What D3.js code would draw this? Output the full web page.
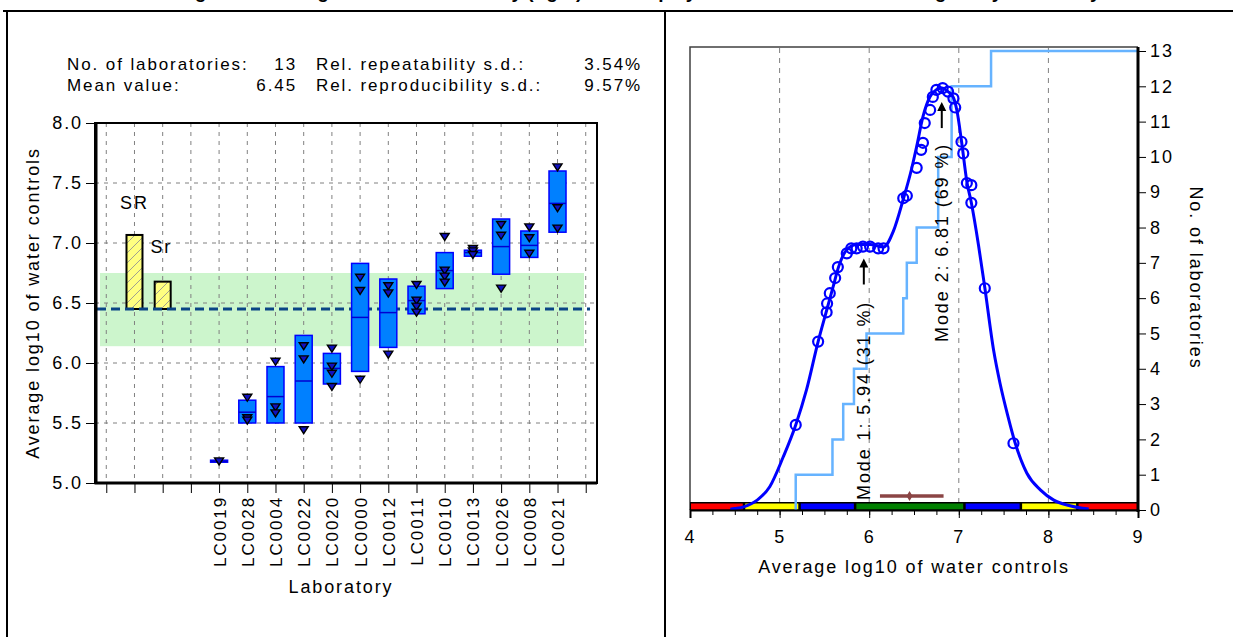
<!DOCTYPE html>
<meta charset="utf-8">
<head>
<title>Laboratory averages and kernel density</title>
<script src="https://d3js.org/d3.v7.min.js"></script>
<style>
  body { margin: 0; background: #fff; }
  text { font-family: "Liberation Sans", Arial, sans-serif; fill: #000; }
</style>
</head>
<body>
<svg width="1233" height="637"></svg>
<script>
// ---- left panel data ----
var labNames = ["LC0019","LC0028","LC0004","LC0022","LC0020","LC0000","LC0012","LC0011","LC0010","LC0013","LC0026","LC0008","LC0021"];
var boxLow  = [5.175, 5.50, 5.50, 5.50, 5.825, 5.93, 6.13, 6.41, 6.62, 6.89, 6.74, 6.88, 7.09];
var boxHigh = [5.19, 5.69, 5.97, 6.23, 6.08, 6.83, 6.70, 6.64, 6.92, 6.94, 7.20, 7.10, 7.60];
var boxMid  = [5.18, 5.59, 5.72, 5.85, 5.955, 6.38, 6.42, 6.52, 6.77, 6.92, 6.97, 6.98, 7.33];
var replicates = [
  [5.18], [5.71, 5.54, 5.52], [6.01, 5.63, 5.58], [6.14, 6.03, 5.44],
  [6.12, 5.97, 5.91, 5.80], [6.71, 6.60, 5.86], [6.64, 6.58, 6.07],
  [6.65, 6.52, 6.47, 6.42], [7.05, 6.77, 6.72, 6.67], [6.95, 6.93, 6.90],
  [7.15, 7.06, 6.62], [7.13, 7.04, 6.91], [7.63, 7.29, 7.12]
];
var meanValue = 6.45;
var sdR = 0.617, sdr = 0.228;      // reproducibility / repeatability s.d.
var bandLow = 6.14, bandHigh = 6.75;
var yTicksLeft = [5.0, 5.5, 6.0, 6.5, 7.0, 7.5, 8.0];

// ---- right panel data ----
var densX = [4.45, 4.5, 4.6, 4.75, 4.89, 5.04, 5.18, 5.30, 5.43, 5.53, 5.60, 5.66, 5.75, 5.86, 6.01, 6.16, 6.27, 6.38, 6.47, 6.53, 6.60, 6.68, 6.75, 6.81, 6.88, 6.94, 6.98, 7.03, 7.09, 7.14, 7.22, 7.29, 7.39, 7.46, 7.55, 7.63, 7.76, 7.91, 8.06, 8.24, 8.38, 8.45];
var densY = [0.02, 0.04, 0.09, 0.28, 0.66, 1.5, 2.41, 3.4, 4.77, 5.7, 6.35, 6.9, 7.37, 7.52, 7.52, 7.45, 7.9, 8.8, 9.63, 10.3, 11.14, 11.71, 11.9, 11.95, 11.85, 11.68, 11.3, 10.45, 9.3, 8.7, 7.5, 6.3, 4.5, 3.59, 2.64, 1.89, 1.04, 0.57, 0.28, 0.12, 0.05, 0.03];
var circX = [5.18, 5.43, 5.525, 5.53, 5.56, 5.62, 5.65, 5.75, 5.80, 5.86, 5.93, 6.01, 6.10, 6.16, 6.38, 6.42, 6.53, 6.58, 6.60, 6.62, 6.68, 6.71, 6.75, 6.82, 6.88, 6.94, 6.96, 7.03, 7.05, 7.09, 7.14, 7.14, 7.29, 7.61];
var circY = [2.41, 4.77, 5.6, 5.85, 6.14, 6.57, 6.88, 7.27, 7.41, 7.41, 7.46, 7.46, 7.41, 7.41, 8.83, 8.9, 9.69, 10.2, 10.4, 10.96, 11.33, 11.7, 11.9, 11.95, 11.85, 11.66, 11.4, 10.43, 10.1, 9.26, 9.2, 8.7, 6.28, 1.89];
var stepX = [5.18, 5.59, 5.71, 5.83, 5.97, 6.38, 6.42, 6.53, 6.77, 6.77, 6.92, 6.92, 7.36];
var modeX = [5.94, 6.81];
var modeY = [7.52, 11.95];
var modeLabels = ["Mode 1: 5.94 (31 %)", "Mode 2: 6.81 (69 %)"];
var zoneBreaks = [4, 4.6, 5.22, 5.84, 7.06, 7.69, 8.32, 9];
var zoneColors = ["#ff0000", "#ffff00", "#0000ff", "#008000", "#0000ff", "#ffff00", "#ff0000"];
var rangeBar = [6.12, 6.83];
var xMajor = [4, 5, 6, 7, 8, 9];
var yRightTicks = d3.range(0, 14);

var LS = "1.9px";   // the chart's wide lettering

var svg = d3.select("svg");
svg.append("rect").attr("width", 1233).attr("height", 637).attr("fill", "#fff");

// cropped page title and table frame
svg.append("text").attr("x", 616).attr("y", -2.5).attr("text-anchor", "middle")
  .attr("font-weight", "bold").attr("font-size", 19)
  .text("Ranking of lab averages and kernel density (right) with display of modes and mixture weights by laboratory");
svg.append("line").attr("x1", 3).attr("x2", 1233).attr("y1", 11).attr("y2", 11).attr("stroke", "#000").attr("stroke-width", 2);
svg.append("line").attr("x1", 7).attr("x2", 7).attr("y1", 10).attr("y2", 637).attr("stroke", "#000").attr("stroke-width", 2);
svg.append("line").attr("x1", 665).attr("x2", 665).attr("y1", 10).attr("y2", 637).attr("stroke", "#000").attr("stroke-width", 2);

// ================= left panel =================
var x = d3.scaleLinear().domain([-0.4, 17.4]).range([95, 597]);
var y = d3.scaleLinear().domain([5, 8]).range([483, 123]);
var L = svg.append("g");

// header
var hdr = L.append("g").attr("font-size", 17).attr("letter-spacing", LS);
hdr.append("text").attr("x", 67).attr("y", 70).text("No. of laboratories:");
hdr.append("text").attr("x", 297).attr("y", 70).attr("text-anchor", "end").text(labNames.length);
hdr.append("text").attr("x", 316).attr("y", 70).text("Rel. repeatability s.d.:");
hdr.append("text").attr("x", 642).attr("y", 70).attr("text-anchor", "end").text("3.54%");
hdr.append("text").attr("x", 67).attr("y", 91).text("Mean value:");
hdr.append("text").attr("x", 297).attr("y", 91).attr("text-anchor", "end").text(meanValue.toFixed(2));
hdr.append("text").attr("x", 316).attr("y", 91).text("Rel. reproducibility s.d.:");
hdr.append("text").attr("x", 642).attr("y", 91).attr("text-anchor", "end").text("9.57%");

// green band
L.append("rect").attr("x", 100).attr("width", 484)
  .attr("y", y(bandHigh)).attr("height", y(bandLow) - y(bandHigh)).attr("fill", "#ccf5cc");

// grid
L.append("g").selectAll("line").data(d3.range(18)).enter().append("line")
  .attr("x1", function(d) { return x(d); }).attr("x2", function(d) { return x(d); })
  .attr("y1", 123).attr("y2", 483).attr("stroke", "#808080").attr("stroke-dasharray", "4,5");
L.append("g").selectAll("line").data(yTicksLeft.slice(1, -1)).enter().append("line")
  .attr("x1", 95).attr("x2", 597)
  .attr("y1", function(d) { return y(d); }).attr("y2", function(d) { return y(d); })
  .attr("stroke", "#808080").attr("stroke-dasharray", "4,5");

// hatch for SR / Sr bars
var defs = svg.append("defs");
var pat = defs.append("pattern").attr("id", "hatch").attr("patternUnits", "userSpaceOnUse")
  .attr("width", 10).attr("height", 10);
pat.append("rect").attr("width", 10).attr("height", 10).attr("fill", "#ffff80");
pat.append("path").attr("d", "M-1,11 L11,-1 M-6,6 L6,-6 M4,16 L16,4").attr("stroke", "#a0a090").attr("stroke-width", 1);

var srBars = [{slot: 1, v: sdR}, {slot: 2, v: sdr}];
L.append("g").selectAll("rect").data(srBars).enter().append("rect")
  .attr("x", function(d) { return x(d.slot) - 8; }).attr("width", 16)
  .attr("y", function(d) { return y(meanValue + d.v); })
  .attr("height", function(d) { return y(meanValue) - y(meanValue + d.v); })
  .attr("fill", "url(#hatch)").attr("stroke", "#000").attr("stroke-width", 2);
L.append("text").attr("x", x(1)).attr("y", 209).attr("text-anchor", "middle").attr("font-size", 18)
  .attr("letter-spacing", LS).text("SR");
L.append("text").attr("x", x(1) + 16).attr("y", 253).attr("font-size", 18).attr("letter-spacing", LS).text("Sr");

// mean line
L.append("line").attr("x1", 97).attr("x2", 590).attr("y1", y(meanValue)).attr("y2", y(meanValue))
  .attr("stroke", "#0a4585").attr("stroke-width", 3).attr("stroke-dasharray", "9,5");

// lab boxes
var labs = L.append("g").selectAll("g").data(labNames).enter().append("g")
  .attr("transform", function(d, i) { return "translate(" + x(i + 4) + ",0)"; });
labs.append("rect").attr("x", -8.5).attr("width", 17)
  .attr("y", function(d, i) { return y(boxHigh[i]); })
  .attr("height", function(d, i) { return Math.max(2, y(boxLow[i]) - y(boxHigh[i])); })
  .attr("fill", "#0080ff").attr("stroke", "#0000ff").attr("stroke-width", 1.5);
labs.append("line").attr("x1", -8.5).attr("x2", 8.5)
  .attr("y1", function(d, i) { return y(boxMid[i]); }).attr("y2", function(d, i) { return y(boxMid[i]); })
  .attr("stroke", "#0000d0").attr("stroke-width", 1.5);
labs.each(function(d, i) {
  d3.select(this).selectAll("path").data(replicates[i]).enter().append("path")
    .attr("d", "M-4.5,-3.5 L4.5,-3.5 L0,3.5 Z")
    .attr("transform", function(v) { return "translate(0," + y(v) + ")"; })
    .attr("fill", "#1010c0").attr("stroke", "#000").attr("stroke-width", 1.4);
});

// frame
L.append("rect").attr("x", 95).attr("y", 123).attr("width", 502).attr("height", 360)
  .attr("fill", "none").attr("stroke", "#000").attr("stroke-width", 2);
L.append("path").attr("d", "M96,123 V483 H597").attr("fill", "none").attr("stroke", "#000").attr("stroke-width", 3);

// axes
var axL = L.append("g").attr("transform", "translate(94,0)")
  .call(d3.axisLeft(y).tickValues(yTicksLeft).tickFormat(d3.format(".1f")).tickSize(8).tickPadding(3));
axL.select(".domain").remove();
axL.selectAll("text").attr("font-size", 18).attr("font-family", null).attr("letter-spacing", LS);

var axB = L.append("g").attr("transform", "translate(0,484)")
  .call(d3.axisBottom(x).tickValues(d3.range(18)).tickSize(9).tickPadding(5)
    .tickFormat(function(d) { return (d >= 4 && d <= 16) ? labNames[d - 4] : ""; }));
axB.select(".domain").remove();
axB.selectAll("text").attr("font-size", 17).attr("font-family", null).attr("letter-spacing", LS)
  .attr("transform", "rotate(-90)").attr("text-anchor", "end")
  .attr("x", -12).attr("y", 0).attr("dy", "0.35em");

L.append("text").attr("x", 341).attr("y", 593).attr("text-anchor", "middle").attr("font-size", 18)
  .attr("letter-spacing", LS).text("Laboratory");
L.append("text").attr("transform", "translate(39,303) rotate(-90)").attr("text-anchor", "middle")
  .attr("font-size", 18).attr("letter-spacing", LS).text("Average log10 of water controls");

// ================= right panel =================
var xr = d3.scaleLinear().domain([4, 9]).range([690, 1138]);
var yr = d3.scaleLinear().domain([0, 13]).range([510, 51]);
var R = svg.append("g");

R.append("g").selectAll("line").data([5, 6, 7, 8]).enter().append("line")
  .attr("x1", function(d) { return xr(d); }).attr("x2", function(d) { return xr(d); })
  .attr("y1", 48).attr("y2", 502).attr("stroke", "#808080").attr("stroke-dasharray", "5,5");

R.append("path").attr("d", "M690,510 V47 H1138").attr("fill", "none").attr("stroke", "#404040").attr("stroke-width", 1.5);

// zone bar
R.append("rect").attr("x", 690).attr("y", 502).attr("width", 448).attr("height", 9).attr("fill", "#000");
R.append("g").selectAll("rect").data(zoneColors).enter().append("rect")
  .attr("x", function(d, i) { return xr(zoneBreaks[i]) + (i ? 1.5 : 1); })
  .attr("width", function(d, i) { return xr(zoneBreaks[i + 1]) - xr(zoneBreaks[i]) - (i ? 2.5 : 2); })
  .attr("y", 503.5).attr("height", 6).attr("fill", function(d) { return d; });

// cumulative number of laboratories
var stepPts = [[stepX[0], 0]].concat(stepX.map(function(v, i) { return [v, i + 1]; })).concat([[9, stepX.length]]);
R.append("path").datum(stepPts)
  .attr("d", d3.line().x(function(d) { return xr(d[0]); }).y(function(d) { return yr(d[1]); }).curve(d3.curveStepAfter))
  .attr("fill", "none").attr("stroke", "#66b3ff").attr("stroke-width", 2.5);

// kernel density
R.append("path").datum(densX.map(function(v, i) { return [v, densY[i]]; }))
  .attr("d", d3.line().x(function(d) { return xr(d[0]); }).y(function(d) { return yr(d[1]); }).curve(d3.curveMonotoneX))
  .attr("fill", "none").attr("stroke", "#0000ff").attr("stroke-width", 3);
R.append("g").selectAll("circle").data(circX).enter().append("circle")
  .attr("cx", function(d) { return xr(d); }).attr("cy", function(d, i) { return yr(circY[i]); })
  .attr("r", 5).attr("fill", "none").attr("stroke", "#0000ff").attr("stroke-width", 2.2);

// range of mean
R.append("line").attr("x1", xr(rangeBar[0])).attr("x2", xr(rangeBar[1])).attr("y1", 496).attr("y2", 496)
  .attr("stroke", "#8b4545").attr("stroke-width", 3.5);
R.append("path").attr("d", "M" + xr(meanValue) + ",491 l3,5 l-3,5 l-3,-5 Z").attr("fill", "#8b4545");

// modes
modeX.forEach(function(m, i) {
  var tip = yr(modeY[i]) + 14;
  R.append("line").attr("x1", xr(m)).attr("x2", xr(m)).attr("y1", tip + 4).attr("y2", tip + 26)
    .attr("stroke", "#000").attr("stroke-width", 2);
  R.append("path").attr("d", "M" + xr(m) + "," + tip + " l-4.5,9 l9,0 Z").attr("fill", "#000");
  R.append("text").attr("transform", "translate(" + xr(m) + "," + (i ? 342 : 500) + ") rotate(-90)")
    .attr("dy", "0.35em").attr("font-size", 18).attr("letter-spacing", LS).text(modeLabels[i]);
});

// axes
var axR = R.append("g").attr("transform", "translate(1138,0)")
  .call(d3.axisRight(yr).tickValues(yRightTicks).tickFormat(d3.format("d")).tickSize(8).tickPadding(4));
axR.select(".domain").attr("d", "M0,47 V512").attr("stroke-width", 3);
axR.selectAll("text").attr("font-size", 18).attr("font-family", null).attr("letter-spacing", LS);

var axX = R.append("g").attr("transform", "translate(0,510)")
  .call(d3.axisBottom(xr).tickValues(xMajor).tickFormat(d3.format("d")).tickSize(8).tickPadding(12));
axX.select(".domain").attr("stroke-width", 2);
axX.selectAll("text").attr("font-size", 18).attr("font-family", null).attr("letter-spacing", LS);
R.append("g").attr("transform", "translate(0,510)")
  .call(d3.axisBottom(xr).tickValues(d3.range(4, 9, 0.25)).tickFormat("").tickSize(5))
  .select(".domain").remove();

R.append("text").attr("x", 914).attr("y", 573).attr("text-anchor", "middle").attr("font-size", 18)
  .attr("letter-spacing", LS).text("Average log10 of water controls");
R.append("text").attr("transform", "translate(1190,278) rotate(90)").attr("text-anchor", "middle")
  .attr("font-size", 18).attr("letter-spacing", LS).text("No. of laboratories");
</script>
</body>
